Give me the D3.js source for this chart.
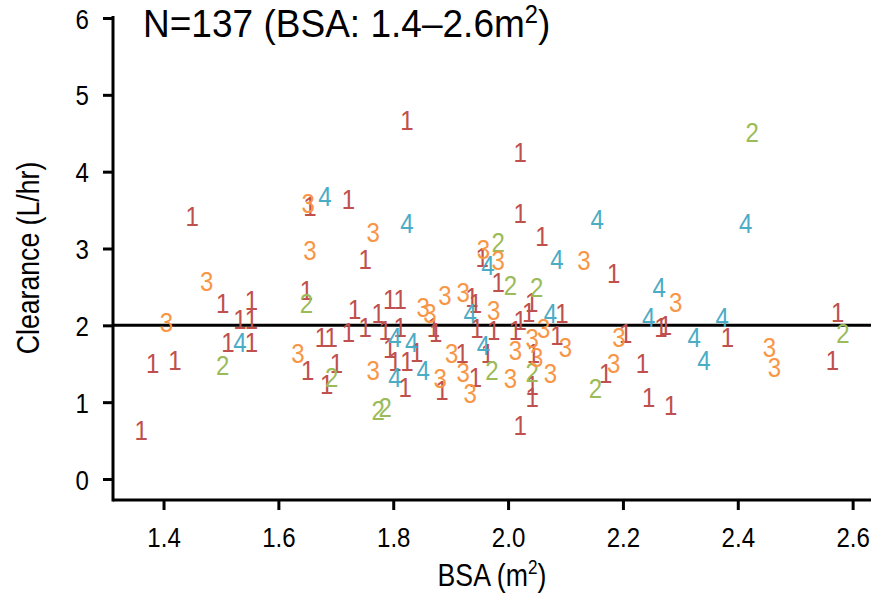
<!DOCTYPE html>
<html>
<head>
<meta charset="utf-8">
<script src="https://cdn.jsdelivr.net/npm/d3@7"></script>
<style>
  body { margin: 0; background: #fff; }
  text { font-family: "Liberation Sans", Arial, sans-serif; }
</style>
</head>
<body>
<div id="chart-area"></div>
<script>
// BSA vs clearance, points labelled by group

var groupColors = { "1": "#c0504d", "2": "#9bbb59", "3": "#f79646", "4": "#4bacc6" };

// group 1
var g1 = [
    [1.450, 3.42], [1.503, 2.29], [1.553, 2.33], [1.533, 2.09], [1.553, 2.09],
    [1.512, 1.79], [1.553, 1.79], [1.381, 1.51], [1.420, 1.55], [1.361, 0.64],
    [1.651, 1.42], [1.649, 2.46], [1.824, 4.67], [1.655, 3.55], [1.722, 3.65],
    [1.751, 2.86], [1.675, 1.85], [1.692, 1.85], [1.722, 1.92], [1.733, 2.22],
    [1.751, 1.98], [1.774, 2.16], [1.794, 2.35], [1.812, 2.35], [1.786, 1.94],
    [1.812, 1.98], [1.794, 1.71], [1.803, 1.54], [1.824, 1.54], [1.841, 1.66],
    [1.821, 1.20], [1.701, 1.51], [1.684, 1.24], [1.870, 1.98], [1.874, 1.92],
    [1.937, 2.37], [1.943, 2.29], [1.946, 1.96], [1.920, 1.64], [1.943, 1.33],
    [1.885, 1.16], [1.964, 1.64], [2.184, 2.68], [1.983, 2.57], [2.041, 2.31],
    [2.036, 2.18], [2.021, 2.07], [2.013, 1.94], [2.094, 2.16], [1.975, 1.94],
    [2.085, 1.88], [2.044, 1.64], [2.042, 1.22], [2.042, 1.07], [2.021, 0.70],
    [2.205, 1.90], [2.170, 1.38], [2.234, 1.51], [2.245, 1.07], [2.283, 0.96],
    [2.266, 1.98], [2.274, 2.01], [2.021, 4.26], [2.021, 3.46], [2.059, 3.16],
    [1.955, 2.89], [2.382, 1.85], [2.574, 2.18], [2.565, 1.55]
];
// group 2
var g2 = [
    [1.503, 1.48], [1.649, 2.29], [1.693, 1.33], [1.774, 0.90], [1.786, 0.94],
    [2.004, 2.53], [2.050, 2.50], [1.972, 1.42], [2.042, 1.40], [2.152, 1.18],
    [1.983, 3.09], [2.425, 4.52], [2.583, 1.90]
];
// group 3
var g3 = [
    [1.475, 2.58], [1.405, 2.05], [1.634, 1.64], [1.652, 3.59], [1.765, 3.22],
    [1.655, 2.98], [1.765, 1.42], [1.852, 2.24], [1.864, 2.16], [1.890, 2.40],
    [1.922, 2.44], [1.902, 1.64], [1.922, 1.40], [1.882, 1.31], [1.934, 1.12],
    [1.975, 2.20], [2.062, 1.96], [2.042, 1.83], [2.100, 1.72], [2.013, 1.68],
    [2.050, 1.59], [2.004, 1.31], [2.074, 1.38], [2.193, 1.85], [2.184, 1.51],
    [2.292, 2.31], [1.957, 2.99], [1.983, 2.85], [2.132, 2.85], [2.455, 1.72],
    [2.464, 1.46]
];
// group 4
var g4 = [
    [1.533, 1.79], [1.681, 3.68], [1.824, 3.33], [1.803, 1.85], [1.832, 1.79],
    [1.803, 1.33], [1.852, 1.42], [1.934, 2.16], [1.957, 1.74], [2.074, 2.16],
    [2.245, 2.11], [2.263, 2.50], [2.155, 3.39], [2.085, 2.87], [1.965, 2.79],
    [2.414, 3.33], [2.373, 2.11], [2.324, 1.85], [2.341, 1.55]
];

var xTicks = [1.4, 1.6, 1.8, 2.0, 2.2, 2.4, 2.6];
var yTicks = [0, 1, 2, 3, 4, 5, 6];
var refLine = 2;

var points = [];
[g1, g2, g3, g4].forEach(function(arr, i){
    arr.forEach(function(p){
        points.push({ bsa: p[0], cl: p[1], group: String(i + 1) });
    });
});

var svg = d3.select("#chart-area")
    .append("svg")
        .attr("width", 874)
        .attr("height", 594);

// Scales
var x = d3.scaleLinear()
    .domain([1.312, 2.632])
    .range([113, 871]);
var y = d3.scaleLinear()
    .domain([0, 6])
    .range([479, 18]);
var plotBottom = 500;
var squeeze = 0.86;   // the reference text is a bit narrow

// Reference line
svg.append("line")
    .attr("x1", 113)
    .attr("x2", 871)
    .attr("y1", y(refLine))
    .attr("y2", y(refLine))
    .attr("stroke", "#000")
    .attr("stroke-width", 3);

// Points as group numbers
svg.selectAll("text.pt")
    .data(points)
    .enter()
    .append("text")
        .attr("class", "pt")
        .attr("transform", function(d){
            return "translate(" + x(d.bsa) + "," + y(d.cl) + ") scale(" + squeeze + ",1)";
        })
        .attr("dy", "0.36em")
        .attr("text-anchor", "middle")
        .attr("font-size", "28px")
        .attr("fill", function(d){ return groupColors[d.group]; })
        .text(function(d){ return d.group; });

// X Axis
var xAxis = svg.append("g")
    .attr("transform", "translate(0," + plotBottom + ")")
    .call(d3.axisBottom(x)
        .tickValues(xTicks)
        .tickSize(10)
        .tickSizeOuter(0)
        .tickFormat(d3.format(".1f")));
xAxis.select(".domain").remove();
xAxis.append("line")
    .attr("x1", 113).attr("x2", 871)
    .attr("stroke", "#000").attr("stroke-width", 3);

// Y Axis
var yAxis = svg.append("g")
    .attr("transform", "translate(113,0)")
    .call(d3.axisLeft(y)
        .tickValues(yTicks)
        .tickSize(10)
        .tickSizeOuter(0)
        .tickFormat(d3.format("d")));
yAxis.select(".domain").remove();
yAxis.append("line")
    .attr("y1", 16).attr("y2", plotBottom + 1.5)
    .attr("stroke", "#000").attr("stroke-width", 3);

svg.selectAll(".tick line")
    .attr("stroke", "#000")
    .attr("stroke-width", 3);
svg.selectAll(".tick text")
    .attr("font-size", "28px")
    .attr("font-family", "Liberation Sans, Arial, sans-serif")
    .attr("fill", "#000");
xAxis.selectAll(".tick text")
    .attr("y", 0)
    .attr("dy", 0)
    .attr("transform", "translate(0,47) scale(" + squeeze + ",1)");
yAxis.selectAll(".tick text")
    .attr("x", 0)
    .attr("dy", "0.36em")
    .attr("transform", "translate(-24,0) scale(" + squeeze + ",1)");

// Labels
svg.append("text")
    .attr("transform", "translate(143,37) scale(0.95,1)")
    .attr("font-size", "39px")
    .html("N=137 (BSA: 1.4–2.6m<tspan dy='-14' font-size='25px'>2</tspan><tspan dy='14'>)</tspan>");

svg.append("text")
    .attr("transform", "translate(492,586) scale(" + squeeze + ",1)")
    .attr("text-anchor", "middle")
    .attr("font-size", "31px")
    .html("BSA (m<tspan dy='-12' font-size='20px'>2</tspan><tspan dy='12'>)</tspan>");

svg.append("text")
    .attr("transform", "translate(39,258) rotate(-90) scale(" + squeeze + ",1)")
    .attr("text-anchor", "middle")
    .attr("font-size", "31px")
    .text("Clearance (L/hr)");
</script>
</body>
</html>
